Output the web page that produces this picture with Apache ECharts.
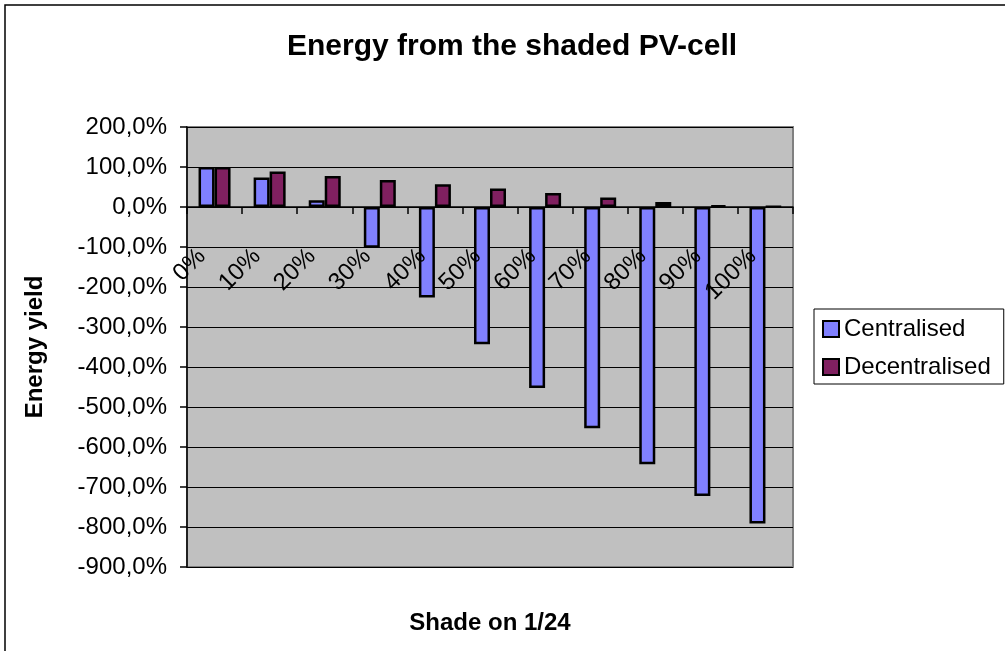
<!DOCTYPE html>
<html>
<head>
<meta charset="utf-8">
<title>Energy from the shaded PV-cell</title>
<script src="https://cdn.jsdelivr.net/npm/echarts@6/dist/echarts.min.js"></script>
<style>
  html, body { margin: 0; padding: 0; background: #fff; }
  #chart { width: 1005px; height: 651px; }
</style>
</head>
<body>
<div id="chart"></div>
<script>
// Shade share on one of 24 cells
const categories = ['0%', '10%', '20%', '30%', '40%', '50%', '60%', '70%', '80%', '90%', '100%'];
// Energy yield in percent
const centralised = [100, 73.5, 17, -102, -226, -343, -452.5, -553, -643, -722.5, -791];
const decentralised = [100, 89, 77.5, 67.5, 57, 46, 35, 23.5, 12.5, 4, 1];
// Value axis ticks
const yMin = -900;
const yMax = 200;
const yStep = 100;

const FONT = '"Liberation Sans", Arial, sans-serif';

const chart = echarts.init(document.getElementById('chart'), null, { renderer: 'canvas' });

chart.setOption({
  animation: false,
  backgroundColor: '#ffffff',
  textStyle: { fontFamily: FONT, color: '#000' },
  graphic: [
    {
      type: 'rect',
      shape: { x: 5, y: 5, width: 1100, height: 700 },
      style: { fill: 'none', stroke: '#000', lineWidth: 1.5 },
      silent: true
    },
    {
      type: 'text',
      x: 512,
      y: 47,
      style: {
        text: 'Energy from the shaded PV-cell',
        font: 'bold 30px ' + FONT,
        fill: '#000',
        align: 'center',
        verticalAlign: 'middle'
      }
    }
  ],
  legend: {
    orient: 'vertical',
    left: 814,
    top: 309,
    padding: [7, 13, 4, 8],
    itemGap: 12,
    itemWidth: 16,
    itemHeight: 16,
    icon: 'rect',
    borderColor: '#000',
    borderWidth: 1,
    backgroundColor: '#fff',
    textStyle: { fontFamily: FONT, fontSize: 24, lineHeight: 26, color: '#000' },
    data: ['Centralised', 'Decentralised']
  },
  grid: {
    left: 187,
    top: 127,
    width: 606,
    height: 440,
    outerBoundsMode: 'none',
    containLabel: false,
    show: true,
    backgroundColor: '#c0c0c0',
    borderColor: '#808080',
    borderWidth: 2
  },
  xAxis: {
    type: 'category',
    data: categories,
    z: 5,
    name: 'Shade on 1/24',
    nameLocation: 'middle',
    nameGap: 44,
    nameTextStyle: { fontFamily: FONT, fontSize: 24, fontWeight: 'bold', color: '#000' },
    axisLine: { onZero: true, lineStyle: { color: '#000', width: 1.5 } },
    axisTick: { show: true, length: 7, lineStyle: { color: '#000', width: 1.5 } },
    axisLabel: {
      rotate: 45,
      margin: -327,
      padding: [0, 18, 0, 0],
      fontFamily: FONT,
      fontSize: 24,
      color: '#000',
      interval: 0,
      hideOverlap: false
    },
    splitLine: { show: false }
  },
  yAxis: {
    type: 'value',
    min: yMin,
    max: yMax,
    interval: yStep,
    name: 'Energy yield',
    nameLocation: 'middle',
    nameGap: 140,
    nameRotate: 90,
    nameTextStyle: { fontFamily: FONT, fontSize: 24, fontWeight: 'bold', color: '#000' },
    axisLine: { show: true, lineStyle: { color: '#000', width: 1.5 } },
    axisTick: { show: true, length: 7, lineStyle: { color: '#000', width: 1.5 } },
    axisLabel: {
      margin: 20,
      fontFamily: FONT,
      fontSize: 24,
      color: '#000',
      formatter: v => v.toFixed(1).replace('.', ',') + '%'
    },
    splitLine: { show: true, lineStyle: { color: '#000', width: 1 } }
  },
  series: [
    {
      name: 'Centralised',
      type: 'bar',
      data: centralised,
      barWidth: 16,
      barGap: '0%',
      itemStyle: { color: '#8080ff', borderColor: '#000', borderWidth: 2.5 }
    },
    {
      name: 'Decentralised',
      type: 'bar',
      data: decentralised,
      barWidth: 16,
      barGap: '0%',
      itemStyle: { color: '#802060', borderColor: '#000', borderWidth: 2.5 }
    }
  ]
});
</script>
</body>
</html>
